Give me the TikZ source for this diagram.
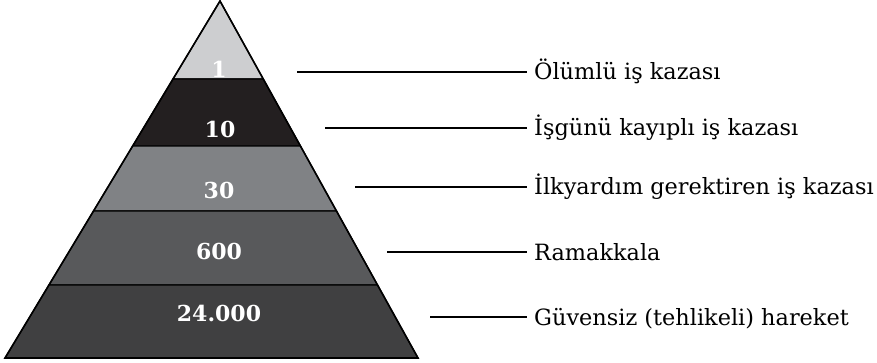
\documentclass[tikz,border=0pt]{standalone}
\usepackage{fontspec}
\setmainfont{DejaVu Serif}
\usepackage{tikz}
\usetikzlibrary{positioning, calc}

\definecolor{layerA}{RGB}{205,206,208}
\definecolor{layerB}{RGB}{35,31,32}
\definecolor{layerC}{RGB}{128,130,133}
\definecolor{layerD}{RGB}{88,89,91}
\definecolor{layerE}{RGB}{64,64,65}

\begin{document}
\begin{tikzpicture}[x=1pt, y=-1pt,
% Define custom styles for the layers, numbers and labels
    layer/.style={
        draw=black,
        line width=1.2pt,
        line join=miter
        },
    num/.style={text=white, inner sep=0pt, font=\fontsize{22}{26}\selectfont\bfseries},
    lbl/.style={anchor=west, inner xsep=7pt, inner ysep=0pt, text height=16pt, text depth=0pt, font=\fontsize{22.4}{26}\selectfont},
    lead/.style={line width=1.6pt}
]
\useasboundingbox (0,0) rectangle (877,363);

\coordinate (T) at (220,1);
\coordinate (BL) at (5,358);
\coordinate (BR) at (418,358);

\coordinate (L1) at ($(T)!0.2185!(BL)$);
\coordinate (R1) at ($(T)!0.2185!(BR)$);
\coordinate (L2) at ($(T)!0.406!(BL)$);
\coordinate (R2) at ($(T)!0.406!(BR)$);
\coordinate (L3) at ($(T)!0.588!(BL)$);
\coordinate (R3) at ($(T)!0.588!(BR)$);
\coordinate (L4) at ($(T)!0.7955!(BL)$);
\coordinate (R4) at ($(T)!0.7955!(BR)$);

\filldraw[layer, fill=layerA] (T) -- (R1) -- (L1) -- cycle;
\filldraw[layer, fill=layerB] (L1) -- (R1) -- (R2) -- (L2) -- cycle;
\filldraw[layer, fill=layerC] (L2) -- (R2) -- (R3) -- (L3) -- cycle;
\filldraw[layer, fill=layerD] (L3) -- (R3) -- (R4) -- (L4) -- cycle;
\filldraw[layer, fill=layerE] (L4) -- (R4) -- (BR) -- (BL) -- cycle;
\draw[layer, line width=1.6pt] (T) -- (BR) -- (BL) -- cycle;

\node[num] (n1) at (219,69) {1};
\node[num] (n2) at (220,129.5) {10};
\node[num] (n3) at (219,190) {30};
\node[num] (n4) at (219,251) {600};
\node[num] (n5) at (219,313) {24.000};

\node[lbl] (l1) at (527,72) {Ölümlü iş kazası};
\node[lbl] (l2) at (527,128) {İşgünü kayıplı iş kazası};
\node[lbl] (l3) at (527,187) {İlkyardım gerektiren iş kazası};
\node[lbl] (l4) at (527,252) {Ramakkala};
\node[lbl] (l5) at (527,317) {Güvensiz (tehlikeli) hareket};

\coordinate (s1) at (297,72);
\coordinate (s2) at (325,128);
\coordinate (s3) at (355,187);
\coordinate (s4) at (387,252);
\coordinate (s5) at (430,317);

\draw[lead] (s1) -- (l1.west);
\draw[lead] (s2) -- (l2.west);
\draw[lead] (s3) -- (l3.west);
\draw[lead] (s4) -- (l4.west);
\draw[lead] (s5) -- (l5.west);

\end{tikzpicture}
\end{document}
